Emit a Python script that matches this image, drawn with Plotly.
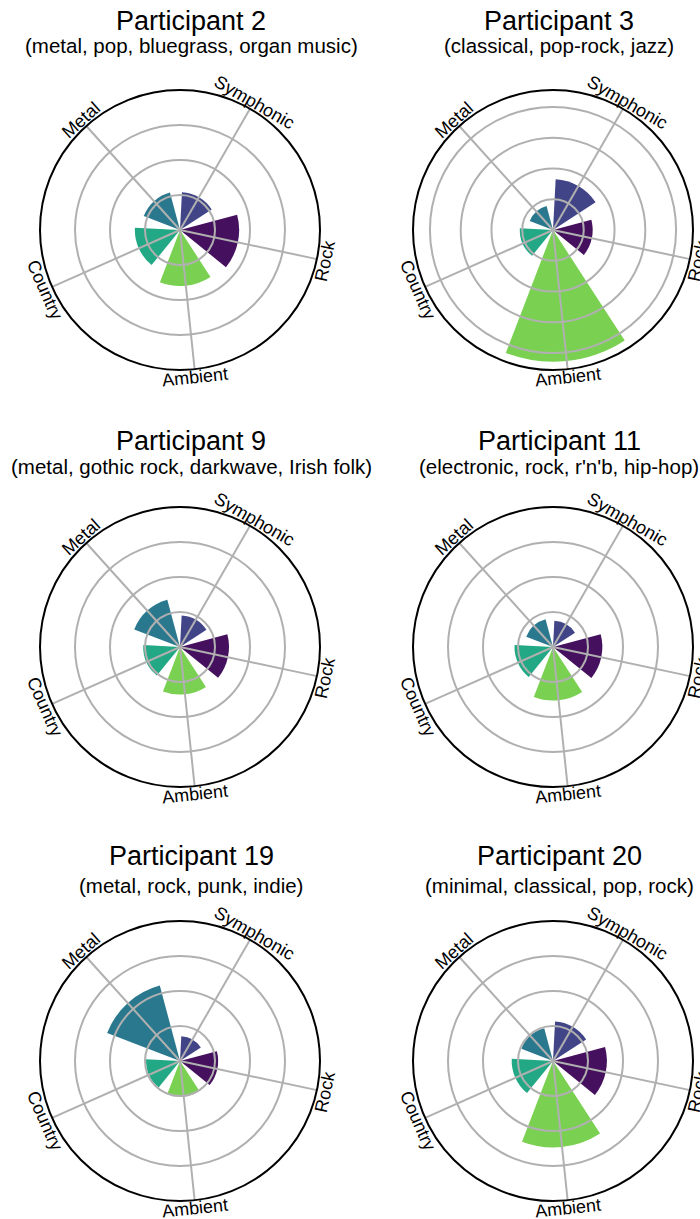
import math
import plotly.graph_objects as go

# ---------------- data ----------------
categories = ["Rock", "Symphonic", "Metal", "Country", "Ambient"]
category_angles = [0, 72, 144, 216, 288]  # degrees, counterclockwise starting at Rock
bar_colors = ["#45115e", "#414487", "#2a788e", "#22a884", "#7ad151"]

participant_names = ["Participant 2", "Participant 3", "Participant 9",
                     "Participant 11", "Participant 19", "Participant 20"]
participant_genres = ["(metal, pop, bluegrass, organ music)",
                      "(classical, pop-rock, jazz)",
                      "(metal, gothic rock, darkwave, Irish folk)",
                      "(electronic, rock, r'n'b, hip-hop)",
                      "(metal, rock, punk, indie)",
                      "(minimal, classical, pop, rock)"]

# values in category order: Rock, Symphonic, Metal, Country, Ambient
p2_values = [1.69, 1.08, 1.11, 1.29, 1.60]
p3_values = [1.29, 1.65, 0.81, 1.08, 4.28]
p9_values = [1.40, 0.90, 1.40, 1.05, 1.36]
p11_values = [1.41, 0.75, 0.82, 1.10, 1.53]
p19_values = [1.09, 0.71, 2.23, 0.97, 1.02]
p20_values = [1.54, 1.13, 0.97, 1.18, 2.47]

radial_max = [4.0, 4.55, 4.0, 4.0, 4.0, 4.0]
radial_ticks = [[1, 2, 3], [1, 2, 3, 4], [1, 2, 3], [1, 2, 3], [1, 2, 3], [1, 2, 3]]

all_values = [p2_values, p3_values, p9_values, p11_values, p19_values, p20_values]

# ---------------- layout constants ----------------
W, H = 700, 1219
R = 140
ROTATION = -12
BAR_WIDTH = 54
col_centers = [180, 553]
row_centers = [230, 647, 1061]
title_x = [191, 559]
title_y = [21, 441, 856]
subtitle_y = [46, 466, 885]
FONT = "Liberation Sans, Arial, sans-serif"
GRID = "#b0b0b0"

fig = go.Figure()

for i, vals in enumerate(all_values):
    sp = "polar" if i == 0 else f"polar{i + 1}"
    fig.add_trace(go.Barpolar(
        r=vals, theta=category_angles, width=[BAR_WIDTH] * len(vals),
        marker=dict(color=bar_colors, line=dict(width=0)),
        subplot=sp, showlegend=False, hoverinfo="skip"))

for i in range(6):
    fig.add_trace(go.Scatterpolar(r=[], theta=[], subplot=f"polar{i + 7}",
                                  showlegend=False, hoverinfo="skip"))

layout = dict(width=W, height=H, margin=dict(l=0, r=0, t=0, b=0),
              paper_bgcolor="white", plot_bgcolor="white",
              font=dict(family=FONT, color="black"))

annotations = []
for i in range(6):
    cx = col_centers[i % 2]
    cy = row_centers[i // 2]
    dom = dict(x=[(cx - R) / W, (cx + R) / W], y=[1 - (cy + R) / H, 1 - (cy - R) / H])
    base = "polar" if i == 0 else f"polar{i + 1}"
    over = f"polar{i + 7}"
    layout[base] = dict(
        domain=dom, bgcolor="white",
        angularaxis=dict(type="linear", rotation=ROTATION, direction="counterclockwise",
                         tickmode="array", tickvals=category_angles,
                         showgrid=False, showline=False, showticklabels=False, ticks=""),
        radialaxis=dict(type="linear", range=[0, radial_max[i]], showgrid=False,
                        showline=False, showticklabels=False, ticks=""))
    layout[over] = dict(
        domain=dom, bgcolor="rgba(0,0,0,0)",
        angularaxis=dict(type="linear", rotation=ROTATION, direction="counterclockwise",
                         tickmode="array", tickvals=category_angles,
                         showgrid=True, gridcolor=GRID, gridwidth=1.8,
                         showline=True, linecolor="black", linewidth=2,
                         showticklabels=False, ticks=""),
        radialaxis=dict(type="linear", range=[0, radial_max[i]],
                        tickmode="array", tickvals=radial_ticks[i],
                        showgrid=True, gridcolor=GRID, gridwidth=1.8,
                        showline=False, showticklabels=False, ticks=""))

    # rotated category labels around the rim
    for cat, a in zip(categories, category_angles):
        ang = ROTATION + a
        rad = math.radians(ang)
        px = cx + 148 * math.cos(rad)
        py = cy - 148 * math.sin(rad)
        rot = ((ang - 90 + 90) % 180) - 90
        annotations.append(dict(text=cat, x=px / W, y=1 - py / H, xref="paper", yref="paper",
                                xanchor="center", yanchor="middle", showarrow=False,
                                textangle=-rot, font=dict(size=18, family=FONT, color="black")))

    tx = title_x[i % 2]
    annotations.append(dict(text=participant_names[i], x=tx / W, y=1 - title_y[i // 2] / H,
                            xref="paper", yref="paper", xanchor="center", yanchor="middle",
                            showarrow=False, font=dict(size=27, family=FONT, color="black")))
    annotations.append(dict(text=participant_genres[i], x=tx / W, y=1 - subtitle_y[i // 2] / H,
                            xref="paper", yref="paper", xanchor="center", yanchor="middle",
                            showarrow=False, font=dict(size=20.5, family=FONT, color="black")))

layout["annotations"] = annotations
fig.update_layout(**layout)
fig.write_html("out.html", config={"displayModeBar": False},
               post_script="document.body.style.margin='0px';document.body.style.overflow='hidden';")
